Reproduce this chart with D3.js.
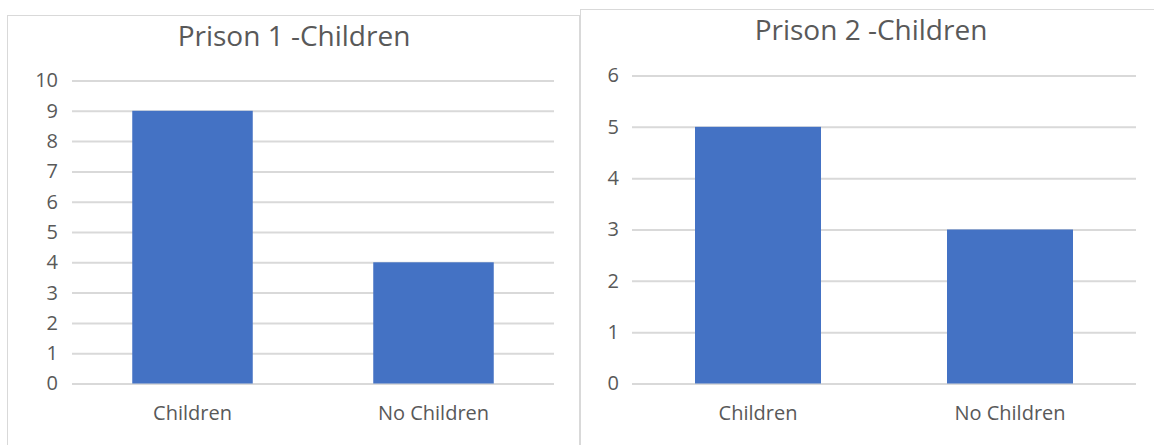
<!DOCTYPE html>
<html><head><meta charset="utf-8">
<script src="https://cdn.jsdelivr.net/npm/d3@7"></script>
<style>
html,body{margin:0;padding:0;background:#fff;}
svg{display:block;}
text{font-family:"Open Sans",sans-serif;fill:#595959;}
</style></head>
<body>
<svg id="c" width="1154" height="445"></svg>
<script>
const categories = ["Children", "No Children"];
const prison1Values = [9, 4];
const prison2Values = [5, 3];
const prison1Ticks = [0,1,2,3,4,5,6,7,8,9,10];
const prison2Ticks = [0,1,2,3,4,5,6];
const titles = ["Prison 1 -Children", "Prison 2 -Children"];

const svg = d3.select("#c");

const charts = [
  {title: titles[0], values: prison1Values, ticks: prison1Ticks, max: 10,
   box: {x: 7.5, y: 15.5, w: 572, h: 440},
   plot: {x0: 72, x1: 554, y0: 80.5, y1: 383.5},
   titleX: 294, titleY: 46, tickX: 58},
  {title: titles[1], values: prison2Values, ticks: prison2Ticks, max: 6,
   box: {x: 580.5, y: 9.5, w: 590, h: 450},
   plot: {x0: 632, x1: 1136, y0: 75.5, y1: 383.5},
   titleX: 871, titleY: 40, tickX: 619}
];

charts.forEach(c => {
  const g = svg.append("g");
  g.append("rect").attr("x", c.box.x).attr("y", c.box.y)
    .attr("width", c.box.w).attr("height", c.box.h)
    .attr("fill", "#fff").attr("stroke", "#d9d9d9").attr("stroke-width", 1);

  const x = d3.scaleBand().domain(categories).range([c.plot.x0, c.plot.x1]).paddingInner(0.5).paddingOuter(0.25);
  const y = d3.scaleLinear().domain([0, c.max]).range([c.plot.y1, c.plot.y0]);

  const grid = g.append("g").attr("transform", `translate(${c.plot.x0},0)`)
    .call(d3.axisLeft(y).tickValues(c.ticks).tickSize(-(c.plot.x1 - c.plot.x0)).tickFormat(""));
  grid.select(".domain").remove();
  grid.selectAll("line").attr("stroke", "#d9d9d9").attr("stroke-width", 2);

  const yAx = g.append("g").attr("transform", `translate(${c.tickX},0)`)
    .call(d3.axisLeft(y).tickValues(c.ticks).tickFormat(d3.format("d")).tickSize(0).tickPadding(0));
  yAx.select(".domain").remove();
  yAx.selectAll("text").attr("font-size", 20).attr("font-family", "Open Sans").attr("fill", "#595959");

  g.selectAll("rect.bar").data(c.values).enter().append("rect")
    .attr("class", "bar")
    .attr("x", (d, i) => x(categories[i]))
    .attr("width", x.bandwidth())
    .attr("y", d => y(d))
    .attr("height", d => y(0) - y(d))
    .attr("fill", "#4472c4");

  const xAx = g.append("g").attr("transform", `translate(0,${c.plot.y1 + 22})`)
    .call(d3.axisBottom(x).tickSize(0).tickPadding(0));
  xAx.select(".domain").remove();
  xAx.selectAll("text").attr("font-size", 20).attr("font-family", "Open Sans").attr("fill", "#595959");

  g.append("text").attr("x", c.titleX).attr("y", c.titleY)
    .attr("text-anchor", "middle").attr("font-size", 28).text(c.title);
});
</script>
</body></html>
